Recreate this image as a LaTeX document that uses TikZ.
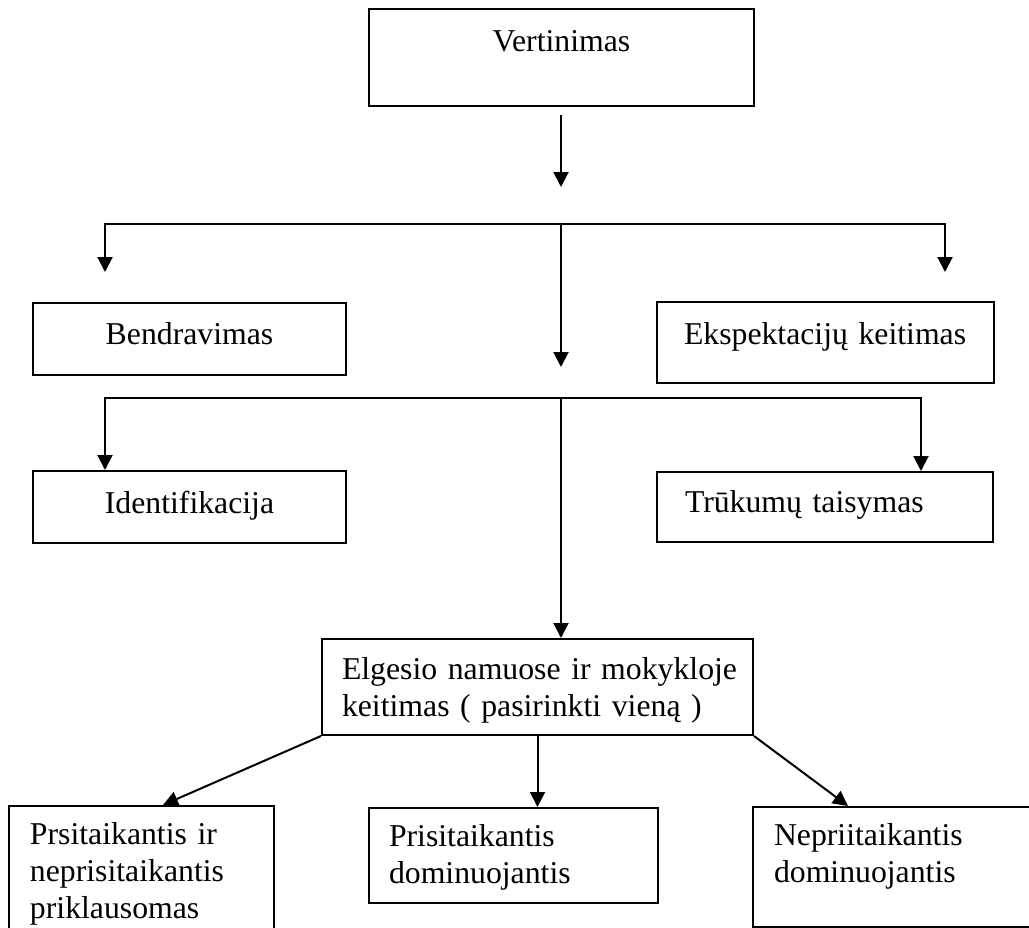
\documentclass[tikz,border=0pt]{standalone}
\usepackage{fontspec}
\setmainfont{Liberation Serif}
\usetikzlibrary{arrows.meta}
\newdimen\unitpx \unitpx=0.4pt
\tikzset{
  box/.style={draw, anchor=north west, inner sep=0pt, align=left,
    font=\fontsize{12.7}{14.8}\selectfont},
  mid/.style={box, align=center}
}
\begin{document}
\begin{tikzpicture}[x=0.4pt, y=-0.4pt, line width=0.8pt, >={Triangle[width=6pt,length=6pt]}]
\useasboundingbox (0,0) rectangle (1029,928);
\clip (0,0) rectangle (1029,928);
% boxes
\node[mid, text width=385\unitpx, text height=42\unitpx, text depth=55\unitpx] (vert) at (368,8) {Vertinimas};
\node[mid, text width=313\unitpx, text height=41\unitpx, text depth=31\unitpx] (bend) at (32,302) {Bendravimas};
\node[box, inner xsep=27\unitpx, text width=283\unitpx, text height=42\unitpx, text depth=39\unitpx] (eksp) at (656,301) {Ekspektacijų keitimas};
\node[mid, text width=313\unitpx, text height=42\unitpx, text depth=30\unitpx] (ident) at (32,470) {Identifikacija};
\node[box, inner xsep=28\unitpx, text width=280\unitpx, text height=40\unitpx, text depth=30\unitpx] (truk) at (656,471) {Trūkumų taisymas};
\node[box, inner xsep=20\unitpx, text width=391\unitpx, text height=40\unitpx, text depth=56\unitpx] (elg) at (321,638) {\mbox{Elgesio namuose ir mokykloje}\\keitimas ( pasirinkti vieną )};
\node[box, inner xsep=21\unitpx, text width=223\unitpx, text height=38\unitpx, text depth=117\unitpx] (prsi) at (8,805) {Prsitaikantis ir\\neprisitaikantis\\priklausomas};
\node[box, inner xsep=20\unitpx, text width=249\unitpx, text height=38\unitpx, text depth=57\unitpx] (dom) at (368,807) {Prisitaikantis\\dominuojantis};
\node[box, inner xsep=21\unitpx, text width=300\unitpx, text height=38\unitpx, text depth=82\unitpx] (nep) at (752,806) {Nepriitaikantis\\dominuojantis};
% fork points
\coordinate (a0) at (561,115);
\coordinate (a1) at (561,187);
\coordinate (f1) at (561,224);
\coordinate (l1) at (105,224);
\coordinate (r1) at (945,224);
\coordinate (l1e) at (105,272);
\coordinate (r1e) at (945,272);
\coordinate (c1e) at (561,367);
\coordinate (f2) at (561,398);
\coordinate (l2) at (105,398);
\coordinate (r2) at (921,398);
% arrows
\draw[->] (a0) -- (a1);
\draw[<->] (l1e) -- (l1) -- (r1) -- (r1e);
\draw[->] (f1) -- (c1e);
\draw[<->] (ident.north -| l2) -- (l2) -- (r2) -- (truk.north -| r2);
\draw[->] (f2) -- (elg.north -| f2);
\draw[->] (elg.south west) -- ([xshift=155\unitpx]prsi.north west);
\draw[->] (elg.south) -- (elg.south |- dom.north);
\draw[->] (elg.south east) -- ([xshift=96\unitpx]nep.north west);
\end{tikzpicture}
\end{document}
